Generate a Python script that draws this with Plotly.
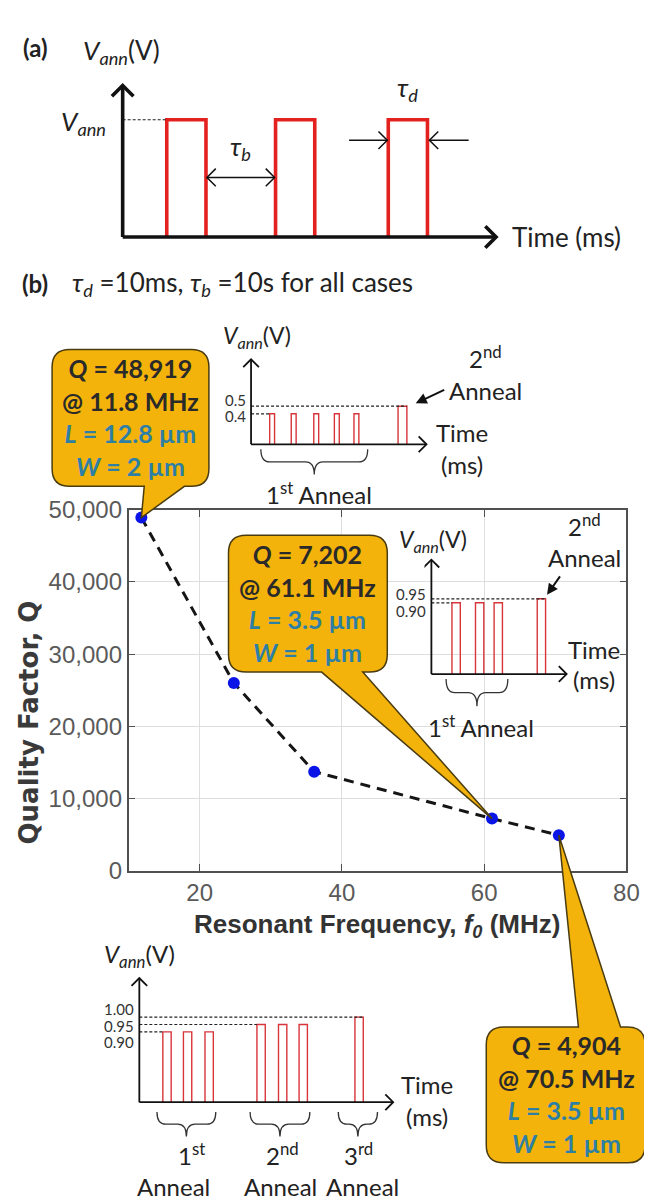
import plotly.graph_objects as go

W, H = 652, 1204

# ---------------- data ----------------
freq_mhz = [11.8, 24.8, 36.1, 61.1, 70.5]
q_factor = [48919, 26000, 13700, 7202, 4904]
x_tick_vals = [20, 40, 60, 80]
y_tick_vals = [0, 10000, 20000, 30000, 40000, 50000]

callout_point = [0, 3, 4]
callout_L_um = ["12.8", "3.5", "3.5"]
callout_W_um = ["2", "1", "1"]

# schematic pulse trains (arbitrary time units, volts)
a_start = [45, 156, 271]
a_width = [40, 40, 40]
a_level = [1.0, 1.0, 1.0]

i1_start = [19, 41, 64, 85, 105, 150]
i1_width = [5, 5, 5, 5, 5, 9]
i1_level = [0.4, 0.4, 0.4, 0.4, 0.4, 0.5]
i1_ticks = ["0.5", "0.4"]

i2_start = [21, 45, 64, 108]
i2_width = [8.5, 8.5, 8.5, 8.5]
i2_level = [0.90, 0.90, 0.90, 0.95]
i2_ticks = ["0.95", "0.90"]

i3_start = [24, 45, 67, 120, 142, 163, 220]
i3_width = [8.5, 8.5, 8.5, 8.5, 8.5, 8.5, 8.5]
i3_level = [0.90, 0.90, 0.90, 0.95, 0.95, 0.95, 1.00]
i3_ticks = ["1.00", "0.95", "0.90"]

# ---------------- layout constants ----------------
X_RANGE = [10, 80]
Y_RANGE = [0, 50000]
X0, X1, Y0, Y1 = 123, 631, 499, 868   # main plot box in pixels

CAL = "Lato, 'Open Sans', sans-serif"
ARIAL = "'Liberation Sans', Arial, sans-serif"

fig = go.Figure()
shapes = []
annotations = []


def P(px, py):
    return px / W, 1 - py / H


def txt(s, px, py, size=24, font=CAL, color="#222222", xanchor="center",
        yanchor="middle", angle=0):
    x, y = P(px, py)
    annotations.append(dict(text=s, x=x, y=y, xref="paper", yref="paper",
                            showarrow=False, xanchor=xanchor, yanchor=yanchor,
                            textangle=angle,
                            font=dict(family=font, size=size, color=color)))


# ---------------- main chart ----------------
fig.add_trace(go.Scatter(x=freq_mhz, y=q_factor, mode="lines",
                         line=dict(color="#151515", width=3, dash="10px,7px"),
                         hoverinfo="skip", showlegend=False))
fig.add_trace(go.Scatter(x=freq_mhz, y=q_factor, mode="markers",
                         marker=dict(color="#0a14e6", size=12),
                         showlegend=False))

axes_layout = dict(
    xaxis=dict(domain=[X0 / W, X1 / W], range=X_RANGE, tickvals=x_tick_vals,
               showgrid=True, gridcolor="#dedede", gridwidth=1,
               showline=True, linecolor="#505050", linewidth=1.5, mirror="ticks",
               ticks="inside", ticklen=7, tickcolor="#505050", zeroline=False,
               tickfont=dict(family=ARIAL, size=24, color="#5a5a5a"),
               anchor="y", fixedrange=True),
    yaxis=dict(domain=[1 - Y1 / H, 1 - Y0 / H], range=Y_RANGE, tickvals=y_tick_vals,
               tickformat=",d",
               showgrid=True, gridcolor="#dedede", gridwidth=1,
               showline=True, linecolor="#505050", linewidth=1.5, mirror="ticks",
               ticks="inside", ticklen=7, tickcolor="#505050", zeroline=False,
               tickfont=dict(family=ARIAL, size=24, color="#5a5a5a"),
               anchor="x", fixedrange=True),
)

txt("<b>Resonant Frequency, <i>f</i><sub><i>0</i></sub> (MHz)</b>", 377, 924, size=26,
    font=ARIAL, color="#333333")
txt("<b>Quality Factor, Q</b>", 21, 717, size=26,
    font="'DejaVu Sans', sans-serif", color="#3a3a3a", angle=-90)

# ---------------- callouts ----------------
callout_boxes = [
    dict(box=(45, 205, 335, 475), base=(139, 180), side="bottom", center=(125, 404)),
    dict(box=(225, 387, 525, 665), base=(320, 362), side="bottom", center=(306, 594)),
    dict(box=(488, 650, 1028, 1167), base=(582, 625), side="top", center=(570, 1097)),
]


def data_to_px(f, q):
    px = X0 + (f - X_RANGE[0]) / (X_RANGE[1] - X_RANGE[0]) * (X1 - X0)
    py = Y1 - (q - Y_RANGE[0]) / (Y_RANGE[1] - Y_RANGE[0]) * (Y1 - Y0)
    return px, py


def callout_path(box, base, side, tip, r=18):
    x0, x1, y0, y1 = box
    bA, bB = base

    def D(px, py):
        x, y = P(px, py)
        return f"{x:.5f},{y:.5f}"

    t = D(*tip)
    parts = [f"M {D(x0 + r, y0)}"]
    if side == "top":
        parts += [f"L {D(bA, y0)}", f"L {t}", f"L {D(bB, y0)}"]
    parts += [f"L {D(x1 - r, y0)}", f"Q {D(x1, y0)} {D(x1, y0 + r)}",
              f"L {D(x1, y1 - r)}", f"Q {D(x1, y1)} {D(x1 - r, y1)}"]
    if side == "bottom":
        parts += [f"L {D(bB, y1)}", f"L {t}", f"L {D(bA, y1)}"]
    parts += [f"L {D(x0 + r, y1)}", f"Q {D(x0, y1)} {D(x0, y1 - r)}",
              f"L {D(x0, y0 + r)}", f"Q {D(x0, y0)} {D(x0 + r, y0)}", "Z"]
    return " ".join(parts)


for k, idx in enumerate(callout_point):
    cb = callout_boxes[k]
    tip = data_to_px(freq_mhz[idx], q_factor[idx])
    shapes.append(dict(type="path", xref="paper", yref="paper", layer="above",
                       path=callout_path(cb["box"], cb["base"], cb["side"], tip),
                       fillcolor="#f4b30a", line=dict(color="#4a3c10", width=1.5)))
    teal = "#2e7fa6"
    s = (f"<b><i>Q</i> = {q_factor[idx]:,}</b><br>"
         f"<b>@ {freq_mhz[idx]} MHz</b><br>"
         f"<span style='color:{teal}'><b><i>L</i> = {callout_L_um[k]} µm</b></span><br>"
         f"<span style='color:{teal}'><b><i>W</i> = {callout_W_um[k]} µm</b></span>")
    txt(s, cb["center"][0], cb["center"][1], size=25, color="#2a2a2a")

# ---------------- schematic insets ----------------
insets = [
    dict(id=2, origin=(117, 220), sv=120.0, vb=0.0, box=(100, 515, 50, 240),
         top=65, end=498, start=a_start, width=a_width, level=a_level,
         red="#e3221f", lw=3.6, axw=3.6, arm=11, top_to_end=False,
         braces=[], dashw=1.2),
    dict(id=3, origin=(248, 432), sv=78.0, vb=0.0, box=(238, 440, 335, 470),
         top=345, end=427, start=i1_start, width=i1_width, level=i1_level,
         red="#d8343a", lw=1.4, axw=1.8, arm=8, top_to_end=True,
         braces=[(10, 119, 5, 31)], dashw=1.2),
    dict(id=4, origin=(432, 667), sv=81.0, vb=0.0, box=(425, 580, 540, 705),
         top=550, end=570, start=i2_start, width=i2_width, level=i2_level,
         red="#d8343a", lw=1.4, axw=1.8, arm=8, top_to_end=True,
         braces=[(15, 78, 5, 33)], dashw=1.2),
    dict(id=5, origin=(134, 1105), sv=150.0, vb=0.42, box=(125, 400, 968, 1145),
         top=978, end=393, start=i3_start, width=i3_width, level=i3_level,
         red="#d8343a", lw=1.4, axw=1.8, arm=8, top_to_end=True,
         braces=[(18, 78, 10, 35), (113, 174, 10, 35), (203, 243, 10, 35)],
         dashw=1.2),
]


def chevron(cfg, tx, tv, direction, a):
    sv = cfg["sv"]
    if direction == "up":
        return f"M {tx - a},{tv - a / sv} L {tx},{tv} L {tx + a},{tv - a / sv}"
    if direction == "right":
        return f"M {tx - a},{tv + a / sv} L {tx},{tv} L {tx - a},{tv - a / sv}"
    return f"M {tx + a},{tv + a / sv} L {tx},{tv} L {tx + a},{tv - a / sv}"


for cfg in insets:
    n = cfg["id"]
    ox, oy = cfg["origin"]
    sv, vb = cfg["sv"], cfg["vb"]
    bx0, bx1, by0, by1 = cfg["box"]
    axes_layout[f"xaxis{n}"] = dict(domain=[bx0 / W, bx1 / W], range=[bx0 - ox, bx1 - ox],
                                    visible=False, fixedrange=True, anchor=f"y{n}")
    axes_layout[f"yaxis{n}"] = dict(domain=[1 - by1 / H, 1 - by0 / H],
                                    range=[vb - (by1 - oy) / sv, vb + (oy - by0) / sv],
                                    visible=False, fixedrange=True, anchor=f"x{n}")
    xr, yr = f"x{n}", f"y{n}"

    # pulses
    xs, ys = [], []
    for s, w, lv in zip(cfg["start"], cfg["width"], cfg["level"]):
        xs += [s, s, s + w, s + w, None]
        ys += [vb, lv, lv, vb, None]
    fig.add_trace(go.Scatter(x=xs, y=ys, xaxis=xr, yaxis=yr, mode="lines",
                             line=dict(color=cfg["red"], width=cfg["lw"]),
                             hoverinfo="skip", showlegend=False))

    # dashed reference levels
    levels = sorted(set(cfg["level"]))
    for lv in levels:
        s0 = min(s for s, l in zip(cfg["start"], cfg["level"]) if l == lv)
        end = s0
        if lv == max(levels) and cfg["top_to_end"]:
            end = max(s + w for s, w, l in zip(cfg["start"], cfg["width"], cfg["level"]) if l == lv)
        shapes.append(dict(type="line", xref=xr, yref=yr, x0=0, x1=end, y0=lv, y1=lv,
                           line=dict(color="#222222", width=cfg["dashw"], dash="3px,2px")))

    # axes with open arrowheads
    v_top = vb + (oy - cfg["top"]) / sv
    t_end = cfg["end"] - ox
    ax_line = dict(color="#111111", width=cfg["axw"])
    shapes.append(dict(type="line", xref=xr, yref=yr, x0=0, x1=0, y0=vb, y1=v_top, line=ax_line))
    shapes.append(dict(type="line", xref=xr, yref=yr, x0=0, x1=t_end, y0=vb, y1=vb, line=ax_line))
    shapes.append(dict(type="path", xref=xr, yref=yr, path=chevron(cfg, 0, v_top, "up", cfg["arm"]),
                       line=ax_line))
    shapes.append(dict(type="path", xref=xr, yref=yr, path=chevron(cfg, t_end, vb, "right", cfg["arm"]),
                       line=ax_line))

    # braces
    for tl, tr, d1, d2 in cfg["braces"]:
        ytop = vb - d1 / sv
        ymid = vb - (d1 + d2) / 2 / sv
        ybot = vb - d2 / sv
        tc = (tl + tr) / 2
        r = min(9, (tr - tl) / 4)
        path = (f"M {tl},{ytop} Q {tl},{ymid} {tl + r},{ymid} L {tc - r},{ymid} "
                f"Q {tc},{ymid} {tc},{ybot} Q {tc},{ymid} {tc + r},{ymid} "
                f"L {tr - r},{ymid} Q {tr},{ymid} {tr},{ytop}")
        shapes.append(dict(type="path", xref=xr, yref=yr, path=path,
                           line=dict(color="#333333", width=1.3)))

# panel (a) timing arrows
pa = insets[0]


def tv(px, py):
    return px - pa["origin"][0], pa["vb"] + (pa["origin"][1] - py) / pa["sv"]


thin = dict(color="#111111", width=1.5)
# tau_b double arrow
tb0, vbv = tv(203, 159)
tb1, _ = tv(272, 159)
shapes.append(dict(type="line", xref="x2", yref="y2", x0=tb0, x1=tb1, y0=vbv, y1=vbv, line=thin))
shapes.append(dict(type="path", xref="x2", yref="y2", path=chevron(pa, tb0, vbv, "left", 9), line=thin))
shapes.append(dict(type="path", xref="x2", yref="y2", path=chevron(pa, tb1, vbv, "right", 9), line=thin))
# tau_d arrows
td0, vdv = tv(348, 121)
td1, _ = tv(387, 121)
td2, _ = tv(470, 121)
td3, _ = tv(430, 121)
shapes.append(dict(type="line", xref="x2", yref="y2", x0=td0, x1=td1, y0=vdv, y1=vdv, line=thin))
shapes.append(dict(type="path", xref="x2", yref="y2", path=chevron(pa, td1, vdv, "right", 9), line=thin))
shapes.append(dict(type="line", xref="x2", yref="y2", x0=td2, x1=td3, y0=vdv, y1=vdv, line=thin))
shapes.append(dict(type="path", xref="x2", yref="y2", path=chevron(pa, td3, vdv, "left", 9), line=thin))

VANN = "<i>V</i><sub><i>ann</i></sub>"

# ---------------- texts: panel (a) ----------------
txt("<b>(a)</b>", 28, 26, size=24)
txt(VANN + "(V)", 116, 30, size=26)
txt(VANN, 77, 103, size=26)
txt("<i>τ</i><sub><i>b</i></sub>", 237, 128, size=26)
txt("<i>τ</i><sub><i>d</i></sub>", 408, 68, size=26)
txt("Time (ms)", 512, 220, size=26, xanchor="left")
txt("<b>(b)</b>", 28, 267, size=24)
txt("<i>τ</i><sub><i>d</i></sub> =10ms, <i>τ</i><sub><i>b</i></sub> =10s for all cases",
    63, 267, size=26, xanchor="left")

# inset 1
txt(VANN + "(V)", 254, 322, size=23)
for lab, py in zip(i1_ticks, [387, 403]):
    txt(lab, 245, py, size=15, xanchor="right", color="#333333")
txt("2<sup>nd</sup>", 487, 343, size=24)
txt("Anneal", 487, 377, size=24)
txt("Time", 463, 420, size=24)
txt("(ms)", 463, 453, size=24)
txt("1<sup>st</sup> Anneal", 317, 482, size=24)

# inset 2
txt(VANN + "(V)", 434, 530, size=23)
for lab, py in zip(i2_ticks, [585, 602]):
    txt(lab, 429, py, size=15, xanchor="right", color="#333333")
txt("2<sup>nd</sup>", 588, 515, size=24)
txt("Anneal", 588, 548, size=24)
txt("Time", 598, 642, size=24)
txt("(ms)", 598, 673, size=24)
txt("1<sup>st</sup> Anneal", 483, 720, size=24)

# inset 3
txt(VANN + "(V)", 134, 955, size=24)
for lab, py in zip(i3_ticks, [1010, 1027, 1043]):
    txt(lab, 131, py, size=15, xanchor="right", color="#333333")
txt("Time", 428, 1087, size=24)
txt("(ms)", 428, 1120, size=24)
for lab, px in zip(["1<sup>st</sup>", "2<sup>nd</sup>", "3<sup>rd</sup>"], [187, 280, 358]):
    txt(lab, px, 1158, size=24)
for px in [169, 278, 362]:
    txt("Anneal", px, 1191, size=24)

# filled arrows pointing at 2nd anneal pulses
for tip, tail in [((416, 390), (446, 376)), ((550, 586), (564, 566))]:
    x, y = P(*tip)
    annotations.append(dict(x=x, y=y, xref="paper", yref="paper", text="",
                            showarrow=True, ax=tail[0] - tip[0], ay=tail[1] - tip[1],
                            arrowhead=2, arrowsize=1.1, arrowwidth=2,
                            arrowcolor="#111111", standoff=0))

fig.update_layout(
    width=W, height=H,
    margin=dict(l=0, r=0, t=0, b=0),
    paper_bgcolor="white",
    plot_bgcolor="rgba(0,0,0,0)",
    showlegend=False,
    shapes=shapes,
    annotations=annotations,
    **axes_layout,
)

fig.write_html("out.html")
